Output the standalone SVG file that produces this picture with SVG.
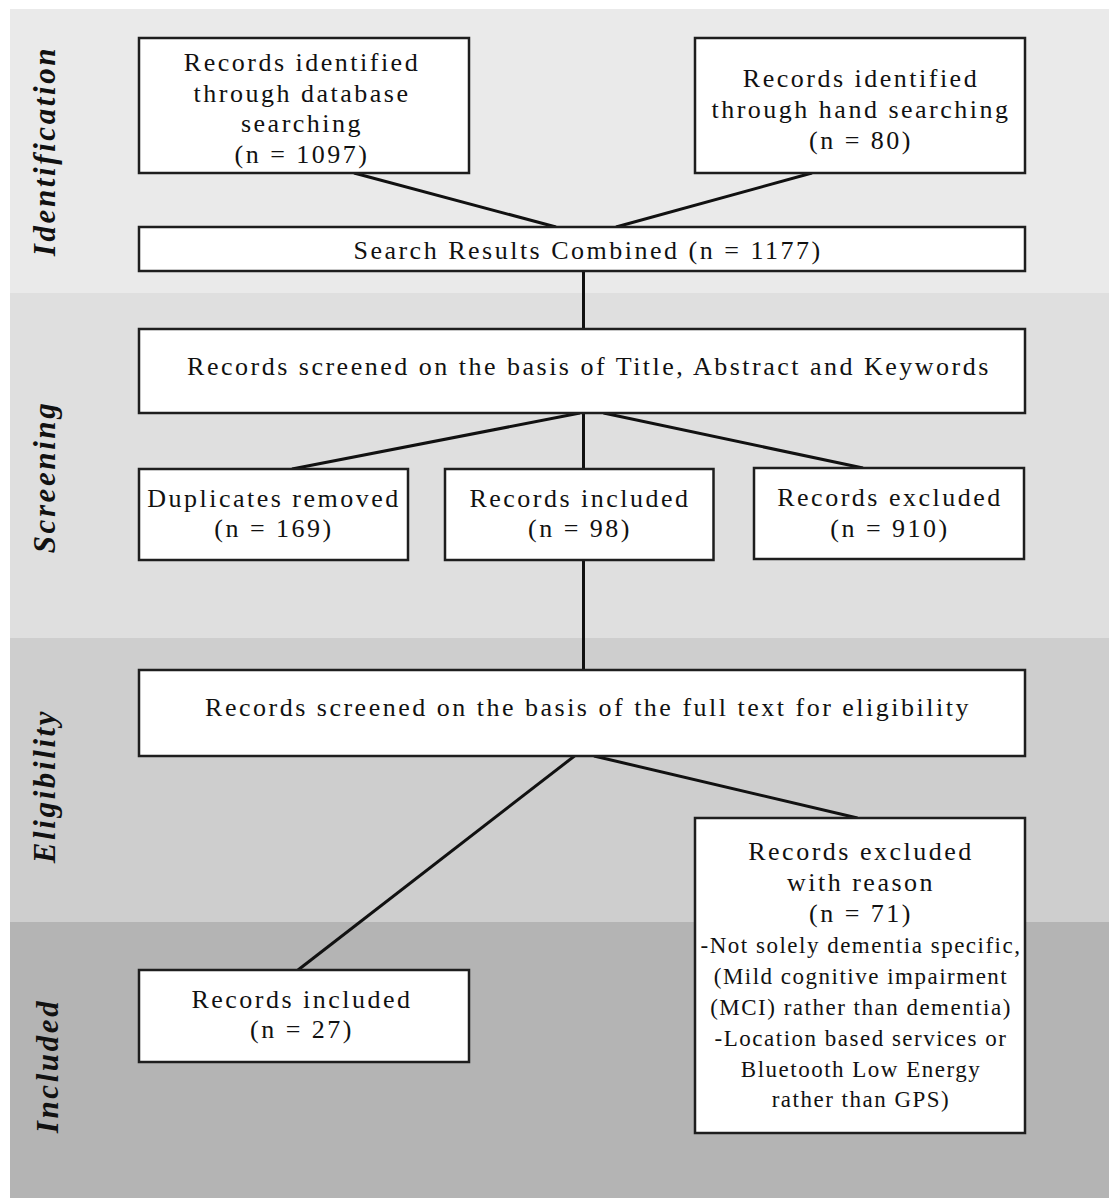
<svg xmlns="http://www.w3.org/2000/svg" width="1109" height="1198" viewBox="0 0 1109 1198">
<style>
.box{fill:#fff;stroke:#1e1e1e;stroke-width:2.5}
.t{font-family:"Liberation Serif","Times New Roman",serif;font-size:26px;letter-spacing:2.5px;fill:#111;text-anchor:middle}
.s{font-family:"Liberation Serif","Times New Roman",serif;font-size:23px;letter-spacing:1.5px;fill:#111;text-anchor:middle}
.lab{font-family:"Liberation Serif","Times New Roman",serif;font-size:31px;font-weight:bold;font-style:italic;letter-spacing:2.6px;fill:#111;text-anchor:middle}
.c{stroke:#111;stroke-width:3;fill:none}
</style>
<rect width="1109" height="1198" fill="#fff"/>
<g id="bands">
<rect x="10" y="9" width="1099" height="284" fill="#eaeaea"/>
<rect x="10" y="293" width="1099" height="345" fill="#dfdfdf"/>
<rect x="10" y="638" width="1099" height="284" fill="#cecece"/>
<rect x="10" y="922" width="1099" height="276" fill="#b4b4b4"/>
<text class="lab" transform="translate(55,151) rotate(-90)">Identification</text>
<text class="lab" transform="translate(55,477) rotate(-90)">Screening</text>
<text class="lab" transform="translate(55,786) rotate(-90)">Eligibility</text>
<text class="lab" transform="translate(58,1066) rotate(-90)">Included</text>
</g>
<g id="connectors">
<line class="c" x1="354" y1="173" x2="556" y2="227"/>
<line class="c" x1="812" y1="173" x2="616" y2="227"/>
<line class="c" x1="583.5" y1="271" x2="583.5" y2="329"/>
<line class="c" x1="580" y1="413" x2="292" y2="469"/>
<line class="c" x1="583.5" y1="413" x2="583.5" y2="469"/>
<line class="c" x1="603.5" y1="413" x2="863" y2="468"/>
<line class="c" x1="583.5" y1="560" x2="583.5" y2="670"/>
<line class="c" x1="574.5" y1="756" x2="298" y2="970"/>
<line class="c" x1="594" y1="756" x2="857.5" y2="818"/>
</g>
<g id="db">
<rect class="box" x="139" y="38" width="330" height="135"/>
<text class="t" x="302" y="71">Records identified</text>
<text class="t" x="302" y="102">through database</text>
<text class="t" x="302" y="132">searching</text>
<text class="t" x="302" y="163">(n = 1097)</text>
</g>
<g id="hand">
<rect class="box" x="695" y="38" width="330" height="135"/>
<text class="t" x="861" y="87">Records identified</text>
<text class="t" x="861" y="118">through hand searching</text>
<text class="t" x="861" y="149">(n = 80)</text>
</g>
<g id="combined">
<rect class="box" x="139" y="227" width="886" height="44"/>
<text class="t" x="588" y="259">Search Results Combined (n = 1177)</text>
</g>
<g id="screen">
<rect class="box" x="139" y="329" width="886" height="84"/>
<text class="t" x="589" y="375">Records screened on the basis of Title, Abstract and Keywords</text>
</g>
<g id="dup">
<rect class="box" x="139" y="469" width="269" height="91"/>
<text class="t" x="274" y="507">Duplicates removed</text>
<text class="t" x="274" y="537">(n = 169)</text>
</g>
<g id="inc98">
<rect class="box" x="445" y="469" width="268.5" height="91"/>
<text class="t" x="580" y="507">Records included</text>
<text class="t" x="580" y="537">(n = 98)</text>
</g>
<g id="exc910">
<rect class="box" x="754" y="468" width="270" height="91"/>
<text class="t" x="890" y="506">Records excluded</text>
<text class="t" x="890" y="537">(n = 910)</text>
</g>
<g id="elig">
<rect class="box" x="139" y="670" width="886" height="86"/>
<text class="t" x="588" y="716">Records screened on the basis of the full text for eligibility</text>
</g>
<g id="reason">
<rect class="box" x="695" y="818" width="330" height="315"/>
<text class="t" x="861" y="860">Records excluded</text>
<text class="t" x="861" y="891">with reason</text>
<text class="t" x="861" y="922">(n = 71)</text>
<text class="s" x="861" y="953">-Not solely dementia specific,</text>
<text class="s" x="861" y="984">(Mild cognitive impairment</text>
<text class="s" x="861" y="1015">(MCI) rather than dementia)</text>
<text class="s" x="861" y="1045.5">-Location based services or</text>
<text class="s" x="861" y="1076.5">Bluetooth Low Energy</text>
<text class="s" x="861" y="1107">rather than GPS)</text>
</g>
<g id="inc27">
<rect class="box" x="139" y="970" width="330" height="92"/>
<text class="t" x="302" y="1008">Records included</text>
<text class="t" x="302" y="1038">(n = 27)</text>
</g>
</svg>
